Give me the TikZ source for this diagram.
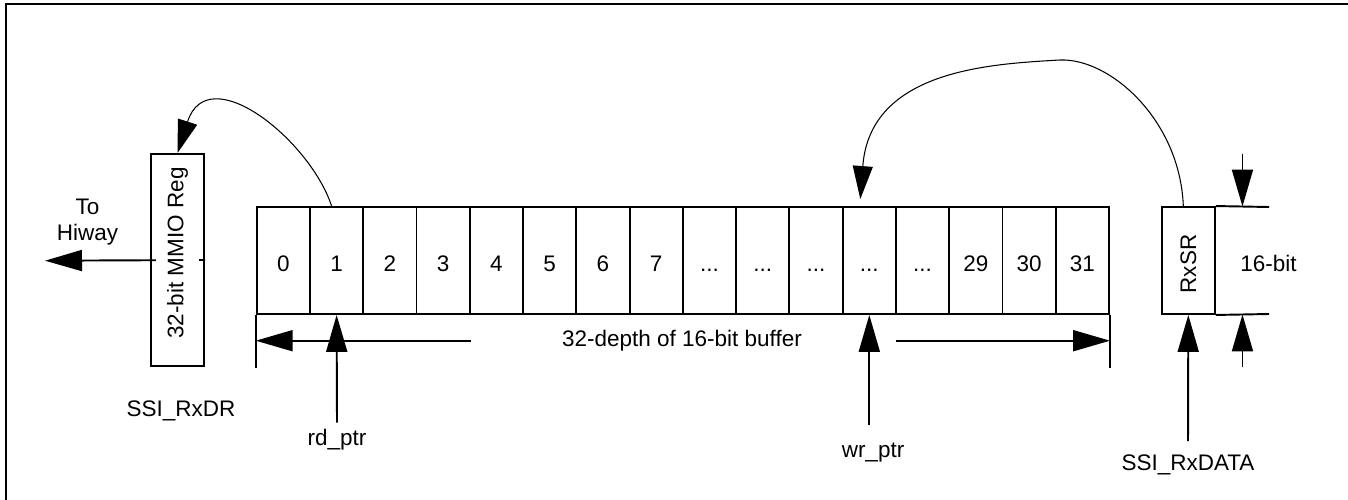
\documentclass[tikz,border=0pt]{standalone}
\usepackage{fontspec}
\setmainfont{Liberation Sans}
\usetikzlibrary{arrows.meta, calc, positioning}
\newcommand{\elp}{...}

\begin{document}
\begin{tikzpicture}[x=0.02cm,y=-0.02cm,
    font=\fontsize{12.8}{14.7}\selectfont,
    box/.style={draw,line width=1.1pt,inner sep=0pt,minimum width=1.066cm,minimum height=2.14cm},
    cellbox/.style={box,text height=12pt,text depth=0pt},
    bigarrow/.style={line width=1.1pt,-{Triangle[length=0.74cm,width=0.42cm]}},
    bendarrow/.style={line width=0.6pt,-{Triangle[length=0.66cm,width=0.40cm]}},
    plain/.style={line width=1.1pt}]
\useasboundingbox (0,0) rectangle (1348,500);
\draw[line width=1.2pt] (6,500) -- (6,4) -- (1348,4);

% FIFO cells
\foreach \lab [count=\i from 0] in {0,1,2,3,4,5,6,7,\elp,\elp,\elp,\elp,\elp,29,30,31}
    \node[cellbox] (c\i) at ({256.7+53.27*(\i+0.5)},260.5) {\lab};

% SSI_RxDR register
\node[box,minimum height=4.24cm] (mmio) at (177.5,260) {};
\coordinate (hiway) at (45,260.7);
\draw[bigarrow] (mmio.east) -- (hiway);
\node[rotate=90,fill=white,inner xsep=0pt,inner ysep=6pt] (mmiotxt) at (177.5,253) {32-bit MMIO Reg};
\node[align=center] (tohiway) at (87.5,222) {To\\Hiway};
\node[anchor=base] (rxdr) at (181,416) {SSI\_RxDR};

% read side
\draw[bendarrow] ($(c1.north)+(-5,0)$) .. controls (310,140) and (208,58) .. (mmio.north);
\node[anchor=base] (rdptr) at (337,445) {rd\_ptr};
\draw[bigarrow] (rdptr.north) -- (c1.south);

% write side
\node[anchor=base] (wrptr) at (873,457) {wr\_ptr};
\draw[bigarrow] ($(wrptr.north -| c11.south)+(0,-11)$) -- (c11.south);

% buffer depth
\node (depth) at (682,340.7) {32-depth of 16-bit buffer};
\coordinate (dl) at (471,340.7);
\coordinate (dr) at (896,340.7);
\draw[plain] (c0.south west) -- ++(0,53);
\draw[plain] (c15.south east) -- ++(0,53);
\draw[bigarrow] (dl) -- (dl -| c0.west);
\draw[bigarrow] (dr) -- (dr -| c15.east);

% receive shift register
\node[box] (rxsr) at (1188.3,260.5) {};
\node[rotate=90] (rxsrtxt) at (1188.3,264) {RxSR};
\coordinate (wt) at (1269,207);
\coordinate (wb) at (1269,314);
\draw[plain] (rxsr.north east) -- (wt);
\draw[plain] (rxsr.south east) -- (wb);
\node[anchor=base] (width) at (1268.5,271.7) {16-bit};
\draw[bigarrow] ($(rxsr.north east)!0.5!(wt)+(0,-53)$) -- ($(rxsr.north east)!0.5!(wt)$);
\draw[bigarrow] ($(rxsr.south east)!0.5!(wb)+(0,53)$) -- ($(rxsr.south east)!0.5!(wb)$);

% incoming data
\node[anchor=base] (rxdata) at (1188,470) {SSI\_RxDATA};
\draw[bigarrow] ($(rxdata.north)+(0,-7)$) -- (rxsr.south);
\draw[bendarrow] ($(rxsr.north)+(-5,0)$) .. controls (1180,120) and (1110,58) .. (1060,60)
    .. controls (990,64) and (870,70) .. ($(c11.north)+(-9,-7)$);
\end{tikzpicture}
\end{document}
